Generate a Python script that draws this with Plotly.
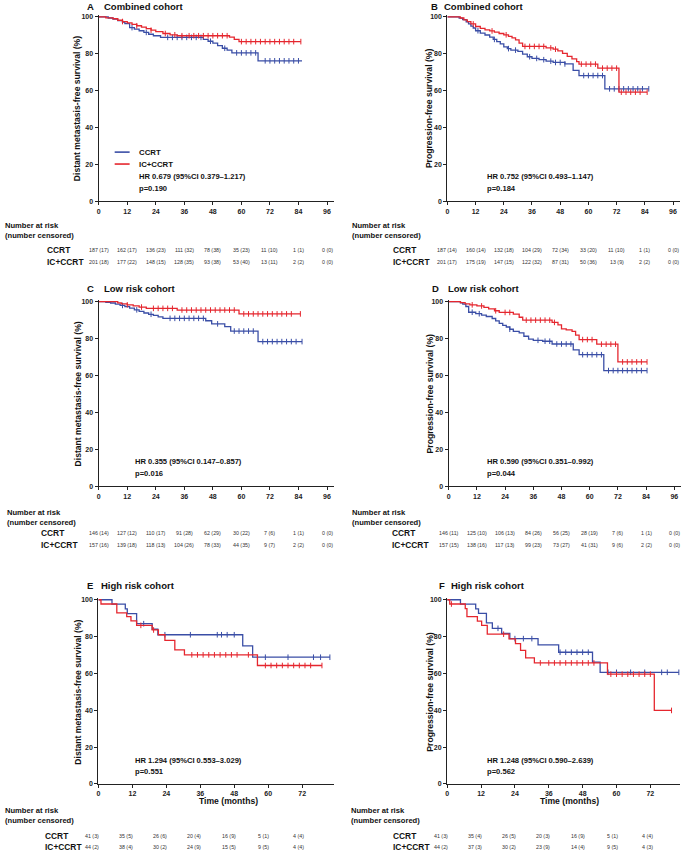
import plotly.graph_objects as go
import numpy as np

W, H = 684, 853
BLUE = "#3a4ea6"
RED = "#e5262e"
FONT = "Liberation Sans, Arial, sans-serif"

# ---------------- data: Kaplan-Meier step curves (time in months, survival %) ----------------
# Panel A: distant metastasis-free survival, combined cohort
A_CCRT_t = [4, 6, 8, 10, 11, 13, 15, 17, 19, 21, 23, 26, 44, 46, 48, 50, 52, 54, 56, 67]
A_CCRT_s = [99.4, 98.8, 98.0, 97.2, 96.4, 94.2, 93.4, 92.5, 91.6, 90.6, 89.8, 88.9, 87.8, 86.8, 85.8, 84.4, 83.0, 82.0, 80.5, 76.2]
A_CCRT_end = 85.5
A_CCRT_cens = [14, 20, 29, 31, 33, 35, 37, 39, 41, 43, 47, 53, 58, 60, 62, 64, 66, 70, 72, 74, 76, 78, 80, 82, 84]
A_IC_t = [3, 6, 8, 10, 12, 14, 16, 18, 20, 22, 24, 27, 30, 33, 55, 57, 59]
A_IC_s = [99.5, 99.0, 98.2, 97.5, 96.8, 96.0, 95.2, 94.5, 93.6, 92.8, 92.0, 91.0, 90.3, 89.8, 89.0, 87.8, 86.6]
A_IC_end = 85
A_IC_cens = [10, 16, 22, 28, 32, 35, 38, 40, 42, 44, 46, 48, 50, 52, 54, 60, 62, 64, 66, 68, 70, 72, 74, 76, 78, 80, 82, 85]

# Panel B: progression-free survival, combined cohort
B_CCRT_t = [5, 6.5, 8, 9, 10, 11, 12, 14, 16, 18, 19.5, 21, 22.5, 24, 25.5, 27, 30, 32, 34, 36, 39, 42, 45, 50, 53.5, 56, 67]
B_CCRT_s = [99.3, 98.5, 97.3, 96.2, 95.0, 94.0, 92.5, 91.2, 90.2, 89.0, 87.8, 86.6, 85.4, 83.8, 82.8, 82.0, 81.3, 79.8, 78.4, 77.5, 76.8, 76.0, 75.3, 74.5, 71.0, 68.2, 61.0]
B_CCRT_end = 85.7
B_CCRT_cens = [13, 20, 26, 29, 35, 38, 41, 44, 46, 48, 50, 58, 60, 62, 64, 66, 69, 71, 73, 75, 77, 79, 81, 83, 85.7]
B_IC_t = [5.5, 7, 8.5, 10, 12, 14, 16, 18, 20, 22, 24, 26, 27.5, 29, 30.5, 32, 42, 45, 47, 49, 51, 53, 55, 56, 64, 73]
B_IC_s = [99.4, 98.4, 97.4, 96.2, 94.8, 93.8, 93.0, 92.4, 91.7, 91.0, 90.3, 89.4, 88.6, 87.6, 85.8, 84.0, 83.2, 82.5, 81.6, 80.2, 78.6, 77.2, 75.8, 74.4, 72.2, 59.2]
B_IC_end = 85
B_IC_cens = [11, 19, 25, 33, 35, 37, 39, 41, 44, 46, 57, 59, 61, 63, 66, 68, 70, 72, 74, 76, 78, 80, 82, 85]

# Panel C: distant metastasis-free survival, low risk cohort
C_CCRT_t = [3, 5, 7, 9, 11, 13, 15, 17, 19, 21, 23, 25, 27, 45, 47.5, 53, 55.5, 67]
C_CCRT_s = [99.6, 99.2, 98.6, 97.9, 97.2, 96.4, 95.5, 94.7, 93.8, 93.1, 92.5, 91.7, 90.9, 89.6, 87.9, 86.4, 84.0, 78.3]
C_CCRT_end = 85.5
C_CCRT_cens = [10, 16, 22, 30, 32, 34, 36, 38, 40, 42, 44, 50, 57, 59, 61, 63, 65, 69, 71, 73, 75, 77, 79, 81, 83, 85.5]
C_IC_t = [8, 9.5, 12, 14.5, 17, 20, 33, 59]
C_IC_s = [99.3, 98.7, 98.2, 97.6, 97.0, 96.3, 95.4, 93.3]
C_IC_end = 84.8
C_IC_cens = [12, 18, 23, 25, 27, 29, 31, 35, 37, 39, 41, 43, 45, 47, 49, 51, 53, 55, 57, 61, 63, 65, 67, 69, 71, 73, 75, 77, 79, 81, 84.8]

# Panel D: progression-free survival, low risk cohort
D_CCRT_t = [5, 6, 7.3, 8.5, 11.5, 14, 16, 18.5, 20, 21.5, 23, 24.5, 26, 27.5, 30, 32, 34, 36, 40, 44, 53, 55.5, 66]
D_CCRT_s = [99.3, 98.6, 97.3, 94.2, 93.4, 92.6, 91.9, 90.8, 89.5, 88.2, 87.1, 86.2, 85.0, 83.8, 83.0, 81.2, 79.6, 79.0, 78.5, 77.0, 73.8, 71.2, 62.6]
D_CCRT_end = 84.4
D_CCRT_cens = [10, 13, 26, 38, 41, 43, 46, 48, 50, 52, 57, 59, 61, 63, 65, 68, 70, 72, 74, 76, 78, 80, 82, 84.4]
D_IC_t = [5, 7, 9, 12, 15, 17, 19.5, 21.5, 27.5, 30, 31.5, 44, 46.5, 48, 50, 52.5, 54, 55.5, 63, 72]
D_IC_s = [99.4, 98.7, 98.2, 97.6, 96.8, 96.0, 95.0, 94.1, 93.2, 91.5, 89.9, 88.7, 87.4, 85.2, 84.6, 83.8, 81.8, 79.4, 76.9, 67.3]
D_IC_end = 84.4
D_IC_cens = [10, 14, 20, 24, 26, 33, 35, 37, 39, 41, 43, 45, 57, 59, 61, 65, 67, 69, 71, 74, 76, 78, 80, 82, 84.4]

# Panel E: distant metastasis-free survival, high risk cohort
E_CCRT_t = [4.8, 9.5, 10.2, 13.5, 19, 21, 51, 54.5]
E_CCRT_s = [97.6, 95.1, 92.5, 87.0, 84.0, 81.0, 75.0, 68.8]
E_CCRT_end = 81.8
E_CCRT_cens = [16, 23.5, 32.5, 42, 43.5, 45.5, 48, 59, 67, 76, 78.5, 81.8]
E_IC_t = [0.9, 6.5, 10, 11.5, 13.5, 19, 21.2, 23.5, 27, 30.4, 56.2]
E_IC_s = [97.7, 92.9, 90.8, 88.5, 86.1, 83.6, 81.0, 78.0, 72.8, 70.1, 64.3]
E_IC_end = 79
E_IC_cens = [15, 19.5, 33, 35, 37, 39, 41, 43, 45, 47, 49, 53, 59, 61, 63, 65, 67, 69, 71, 73, 75, 79]

# Panel F: progression-free survival, high risk cohort
F_CCRT_t = [4.7, 10.1, 11.1, 13.9, 16, 19.3, 22.2, 32.2, 39.5, 51.5, 54.2]
F_CCRT_s = [97.6, 95.1, 92.6, 87.5, 84.5, 81.8, 78.9, 75.5, 71.5, 66.1, 60.6]
F_CCRT_end = 82.1
F_CCRT_cens = [18, 24, 27, 30, 40, 42, 44, 46, 48, 50, 57, 60, 65, 70, 76, 78, 82.1]
F_IC_t = [0.9, 6.4, 7, 10.7, 12.2, 14.2, 21.9, 24.2, 26, 27.8, 30.9, 56.8, 73.4]
F_IC_s = [97.7, 95.2, 90.8, 88.4, 86.1, 81.3, 78.8, 76.2, 72.5, 68.4, 65.7, 59.6, 39.9]
F_IC_end = 79.5
F_IC_cens = [1.5, 20, 33, 36, 38, 40, 42, 44, 46, 48, 50, 52, 58, 60, 62, 64, 66, 68, 70, 72, 79.5]

# ---------------- risk tables ----------------
TICKS_LONG = [0, 12, 24, 36, 48, 60, 72, 84, 96]
TICKS_SHORT = [0, 12, 24, 36, 48, 60, 72]
Y_TICKS = [0, 20, 40, 60, 80, 100]

A_risk_CCRT = [187, 162, 136, 111, 78, 35, 11, 1, 0]
A_cens_CCRT = [17, 17, 23, 32, 38, 23, 10, 1, 0]
A_risk_IC = [201, 177, 148, 128, 93, 53, 13, 2, 0]
A_cens_IC = [18, 22, 15, 35, 38, 40, 11, 2, 0]

B_risk_CCRT = [187, 160, 132, 104, 72, 33, 11, 1, 0]
B_cens_CCRT = [14, 14, 18, 29, 34, 20, 10, 1, 0]
B_risk_IC = [201, 175, 147, 122, 87, 50, 13, 2, 0]
B_cens_IC = [17, 19, 15, 32, 31, 36, 9, 2, 0]

C_risk_CCRT = [146, 127, 110, 91, 62, 30, 7, 1, 0]
C_cens_CCRT = [14, 12, 17, 28, 29, 22, 6, 1, 0]
C_risk_IC = [157, 139, 118, 104, 78, 44, 9, 2, 0]
C_cens_IC = [16, 18, 13, 26, 33, 35, 7, 2, 0]

D_risk_CCRT = [146, 125, 106, 84, 56, 28, 7, 1, 0]
D_cens_CCRT = [11, 10, 13, 26, 25, 19, 6, 1, 0]
D_risk_IC = [157, 138, 117, 99, 73, 41, 9, 2, 0]
D_cens_IC = [15, 16, 13, 23, 27, 31, 6, 2, 0]

E_risk_CCRT = [41, 35, 26, 20, 16, 5, 4]
E_cens_CCRT = [3, 5, 6, 4, 9, 1, 4]
E_risk_IC = [44, 38, 30, 24, 15, 9, 4]
E_cens_IC = [2, 4, 2, 9, 5, 5, 4]

F_risk_CCRT = [41, 35, 26, 20, 16, 5, 4]
F_cens_CCRT = [3, 4, 5, 3, 9, 1, 4]
F_risk_IC = [44, 37, 30, 23, 14, 9, 4]
F_cens_IC = [2, 3, 2, 9, 4, 5, 3]

GROUPS = ["CCRT", "IC+CCRT"]
Y_DMFS = "Distant metastasis-free survival (%)"
Y_PFS = "Progression-free survival (%)"

panels = [
    dict(letter="A", title="Combined cohort", ytitle=Y_DMFS, hr="HR 0.679 (95%CI 0.379\u20131.217)", p="p=0.190",
         curves=[(A_CCRT_t, A_CCRT_s, A_CCRT_end, A_CCRT_cens), (A_IC_t, A_IC_s, A_IC_end, A_IC_cens)],
         risk=[(A_risk_CCRT, A_cens_CCRT), (A_risk_IC, A_cens_IC)], ticks=TICKS_LONG,
         lay=dict(x0=97, ppm=2.385, xend=333, y0=200.5, ppu=1.855, titley=5, letx=83, tx=100,
                  ytx=76, ytyc=107, hrx=135, hry=176, tab=[224.7, 234.7, 249, 261.7], labx=43, nrx=1,
                  legend=True, cols=None)),
    dict(letter="B", title="Combined cohort", ytitle=Y_PFS, hr="HR 0.752 (95%CI 0.493\u20131.147)", p="p=0.184",
         curves=[(B_CCRT_t, B_CCRT_s, B_CCRT_end, B_CCRT_cens), (B_IC_t, B_IC_s, B_IC_end, B_IC_cens)],
         risk=[(B_risk_CCRT, B_cens_CCRT), (B_risk_IC, B_cens_IC)], ticks=TICKS_LONG,
         lay=dict(x0=446.7, ppm=2.357, xend=680, y0=200.5, ppu=1.855, titley=5, letx=428, tx=441,
                  ytx=429, ytyc=107, hrx=484, hry=176, tab=[224.7, 234.7, 249, 261.7], labx=390, nrx=349,
                  legend=False, cols=None)),
    dict(letter="C", title="Low risk cohort", ytitle=Y_DMFS, hr="HR 0.355 (95%CI 0.147\u20130.857)", p="p=0.016",
         curves=[(C_CCRT_t, C_CCRT_s, C_CCRT_end, C_CCRT_cens), (C_IC_t, C_IC_s, C_IC_end, C_IC_cens)],
         risk=[(C_risk_CCRT, C_cens_CCRT), (C_risk_IC, C_cens_IC)], ticks=TICKS_LONG,
         lay=dict(x0=97, ppm=2.385, xend=333, y0=487, ppu=1.857, titley=288.5, letx=83, tx=100,
                  ytx=76, ytyc=394, hrx=131, hry=462.7, tab=[513.3, 523.3, 534.3, 546.7], labx=37, nrx=3,
                  legend=False, cols=None)),
    dict(letter="D", title="Low risk cohort", ytitle=Y_PFS, hr="HR 0.590 (95%CI 0.351\u20130.992)", p="p=0.044",
         curves=[(D_CCRT_t, D_CCRT_s, D_CCRT_end, D_CCRT_cens), (D_IC_t, D_IC_s, D_IC_end, D_IC_cens)],
         risk=[(D_risk_CCRT, D_cens_CCRT), (D_risk_IC, D_cens_IC)], ticks=TICKS_LONG,
         lay=dict(x0=448, ppm=2.357, xend=681, y0=487, ppu=1.857, titley=288.5, letx=429, tx=445,
                  ytx=429, ytyc=394, hrx=484, hry=462.7, tab=[513.3, 523.3, 534.3, 546.7], labx=389, nrx=349,
                  legend=False, cols=None)),
    dict(letter="E", title="High risk cohort", ytitle=Y_DMFS, hr="HR 1.294 (95%CI 0.553\u20133.029)", p="p=0.551",
         curves=[(E_CCRT_t, E_CCRT_s, E_CCRT_end, E_CCRT_cens), (E_IC_t, E_IC_s, E_IC_end, E_IC_cens)],
         risk=[(E_risk_CCRT, E_cens_CCRT), (E_risk_IC, E_cens_IC)], ticks=TICKS_SHORT,
         lay=dict(x0=96.7, ppm=2.838, xend=333, y0=786.5, ppu=1.852, titley=587.3, letx=83, tx=97,
                  ytx=76, ytyc=694, hrx=131, hry=763, tab=[813.3, 823.3, 839.3, 850], labx=41, nrx=1,
                  legend=False, cols=[90, 124, 158, 193, 228, 262, 297], xtitle=(227, 804))),
    dict(letter="F", title="High risk cohort", ytitle=Y_PFS, hr="HR 1.248 (95%CI 0.590\u20132.639)", p="p=0.562",
         curves=[(F_CCRT_t, F_CCRT_s, F_CCRT_end, F_CCRT_cens), (F_IC_t, F_IC_s, F_IC_end, F_IC_cens)],
         risk=[(F_risk_CCRT, F_cens_CCRT), (F_risk_IC, F_cens_IC)], ticks=TICKS_SHORT,
         lay=dict(x0=446.5, ppm=2.83, xend=680, y0=786.5, ppu=1.852, titley=587.3, letx=436, tx=448,
                  ytx=429, ytyc=694, hrx=484, hry=763, tab=[813.3, 823.3, 839.3, 850], labx=390, nrx=348,
                  legend=False, cols=[440, 474, 508, 543, 578, 612, 647], xtitle=(569, 804))),
]

COLORS = [BLUE, RED]


def fx(px):
    return px / W


def fy(py):
    return 1 - py / H


def surv_at(times, surv, t):
    idx = np.searchsorted(np.asarray(times), t, side="right") - 1
    return 100.0 if idx < 0 else surv[idx]


fig = go.Figure()
annotations = []
shapes = []
YMAX = 100.8

for i, pnl in enumerate(panels, start=1):
    L = pnl["lay"]
    xa = "x" if i == 1 else f"x{i}"
    ya = "y" if i == 1 else f"y{i}"
    xmax = (L["xend"] - L["x0"]) / L["ppm"]
    ytop_px = L["y0"] - YMAX * L["ppu"]
    fig.update_layout(**{
        ("xaxis" if i == 1 else f"xaxis{i}"): dict(
            domain=[fx(L["x0"]), fx(L["xend"])], range=[0, xmax], anchor=ya,
            tickvals=pnl["ticks"], ticks="outside", ticklen=3, tickwidth=1, tickcolor="#222",
            showline=True, linecolor="#222", linewidth=1.3, showgrid=False, zeroline=False,
            tickfont=dict(family=FONT, size=7, color="#222", weight="bold")),
        ("yaxis" if i == 1 else f"yaxis{i}"): dict(
            domain=[fy(L["y0"]), fy(ytop_px)], range=[0, YMAX], anchor=xa,
            tickvals=Y_TICKS, ticks="outside", ticklen=3, tickwidth=1, tickcolor="#222",
            showline=True, linecolor="#222", linewidth=1.3, showgrid=False, zeroline=False,
            tickfont=dict(family=FONT, size=7, color="#222", weight="bold")),
    })

    for (t, s, end, cens), col, name in zip(pnl["curves"], COLORS, GROUPS):
        xs = [0] + list(t) + [end]
        ys = [100] + list(s) + [s[-1]]
        fig.add_trace(go.Scatter(x=xs, y=ys, mode="lines", line=dict(color=col, width=1.3, shape="hv"),
                                 xaxis=xa, yaxis=ya, showlegend=False, name=name))
        cy = [surv_at(t, s, c) for c in cens]
        fig.add_trace(go.Scatter(x=cens, y=cy, mode="markers", xaxis=xa, yaxis=ya, showlegend=False,
                                 marker=dict(symbol="line-ns", size=4, line=dict(color=col, width=1))))

    bold = dict(family=FONT, color="#111", weight="bold")
    # panel title
    annotations.append(dict(text=pnl["letter"], x=fx(L["letx"]), y=fy(L["titley"]), xref="paper", yref="paper",
                            xanchor="left", yanchor="middle", showarrow=False, font=dict(size=9.5, **bold)))
    annotations.append(dict(text=pnl["title"], x=fx(L["tx"]), y=fy(L["titley"]), xref="paper", yref="paper",
                            xanchor="left", yanchor="middle", showarrow=False, font=dict(size=9.5, **bold)))
    # y title
    annotations.append(dict(text=pnl["ytitle"], x=fx(L["ytx"]), y=fy(L["ytyc"]), xref="paper", yref="paper",
                            xanchor="center", yanchor="middle", textangle=-90, showarrow=False,
                            font=dict(size=8.6, **bold)))
    # HR and p
    annotations.append(dict(text=pnl["hr"], x=fx(L["hrx"]), y=fy(L["hry"]), xref="paper", yref="paper",
                            xanchor="left", yanchor="middle", showarrow=False, font=dict(size=7.6, **bold)))
    annotations.append(dict(text=pnl["p"], x=fx(L["hrx"]), y=fy(L["hry"] + 11.5), xref="paper", yref="paper",
                            xanchor="left", yanchor="middle", showarrow=False, font=dict(size=7.6, **bold)))
    if "xtitle" in L:
        annotations.append(dict(text="Time (months)", x=fx(L["xtitle"][0]), y=fy(L["xtitle"][1]), xref="paper",
                                yref="paper", xanchor="center", yanchor="middle", showarrow=False,
                                font=dict(size=8.6, **bold)))
    # legend (panel A)
    if L["legend"]:
        for k, (col, name) in enumerate(zip(COLORS, GROUPS)):
            yy = fy(151 + 12 * k)
            shapes.append(dict(type="line", xref="paper", yref="paper", x0=fx(113), x1=fx(128), y0=yy, y1=yy,
                               line=dict(color=col, width=1.6)))
            annotations.append(dict(text=name, x=fx(135), y=yy, xref="paper", yref="paper", xanchor="left",
                                    yanchor="middle", showarrow=False, font=dict(size=7.8, **bold)))
    # risk table
    tab = L["tab"]
    annotations.append(dict(text="Number at risk", x=fx(L["nrx"]), y=fy(tab[0]), xref="paper", yref="paper",
                            xanchor="left", yanchor="middle", showarrow=False, font=dict(size=7.6, **bold)))
    annotations.append(dict(text="(number censored)", x=fx(L["nrx"]), y=fy(tab[1]), xref="paper", yref="paper",
                            xanchor="left", yanchor="middle", showarrow=False, font=dict(size=7.6, **bold)))
    for k, ((nrisk, ncens), name) in enumerate(zip(pnl["risk"], GROUPS)):
        yy = fy(tab[2 + k])
        annotations.append(dict(text=name, x=fx(L["labx"]), y=yy, xref="paper", yref="paper", xanchor="left",
                                yanchor="middle", showarrow=False, font=dict(size=8.4, **bold)))
        for j, (n, c) in enumerate(zip(nrisk, ncens)):
            if L["cols"] is None:
                xpos, xr = pnl["ticks"][j], xa
            else:
                xpos, xr = fx(L["cols"][j]), "paper"
            annotations.append(dict(text=f"{n} ({c})", x=xpos, y=yy, xref=xr, yref="paper", xanchor="center",
                                    yanchor="middle", showarrow=False,
                                    font=dict(family=FONT, size=5.3, color="#333")))

fig.update_layout(width=W, height=H, margin=dict(l=0, r=0, t=0, b=0), paper_bgcolor="white",
                  plot_bgcolor="white", showlegend=False, annotations=annotations, shapes=shapes,
                  font=dict(family=FONT))
fig.write_html("out.html", config={"displayModeBar": False},
               post_script="document.body.style.margin='0';document.body.style.overflow='hidden';")
